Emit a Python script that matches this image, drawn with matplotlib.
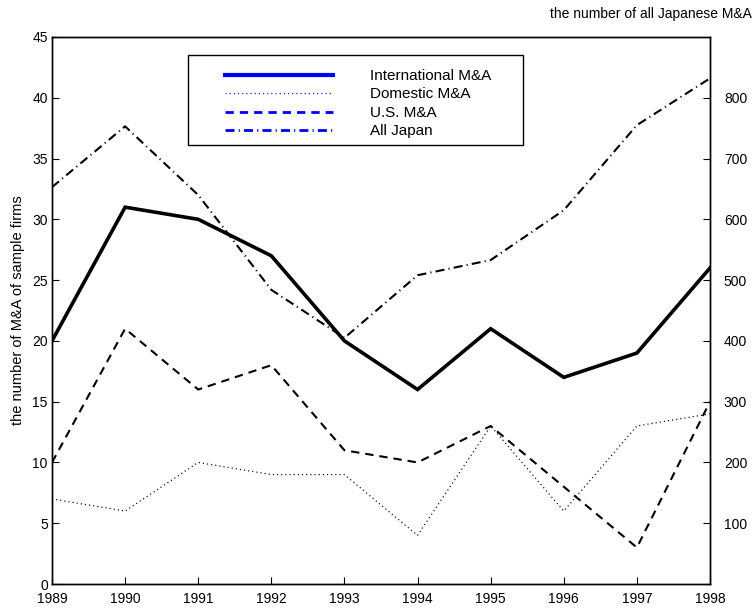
import numpy as np
import matplotlib
matplotlib.use("Agg")
import matplotlib.pyplot as plt
from matplotlib.lines import Line2D
from matplotlib.patches import Rectangle

plt.rcParams["font.family"] = ["Liberation Sans", "DejaVu Sans"]
plt.rcParams["lines.scale_dashes"] = False

years = [1989, 1990, 1991, 1992, 1993, 1994, 1995, 1996, 1997, 1998]
international = [20, 31, 30, 27, 20, 16, 21, 17, 19, 26]
domestic = [7, 6, 10, 9, 9, 4, 13, 6, 13, 14]
us = [10, 21, 16, 18, 11, 10, 13, 8, 3, 15]
all_japan = [653, 753, 640, 484, 405, 508, 533, 615, 755, 832]

labels = ["International M&A", "Domestic M&A", "U.S. M&A", "All Japan"]

DASHED = (0, (6, 4.3))
DOTTED = (0, (0.8, 2.2))
DASHDOT = (0, (6.5, 3, 0.8, 3))

fig = plt.figure(figsize=(7.56, 6.08), dpi=100)
ax = fig.add_axes([52 / 756, 24 / 608, 658 / 756, 547 / 608])
ax2 = ax.twinx()

ax.plot(years, international, color="black", lw=2.6, solid_joinstyle="miter")
ax.plot(years, domestic, color="black", lw=0.9, linestyle=DOTTED)
ax.plot(years, us, color="black", lw=1.5, linestyle=DASHED)
ax2.plot(years, all_japan, color="black", lw=1.5, linestyle=DASHDOT)

ax.set_xlim(1989, 1998)
ax.set_ylim(0, 45)
ax2.set_ylim(0, 900)
ax.set_xticks(years)
ax.set_yticks(range(0, 46, 5))
ax2.set_yticks(range(100, 801, 100))

for a in (ax, ax2):
    a.tick_params(direction="in", length=5, width=0.8, labelsize=10)
    for s in a.spines.values():
        s.set_linewidth(1.0)
ax.tick_params(axis="x", pad=6)
ax.tick_params(axis="y", pad=3)
ax2.tick_params(axis="y", pad=10)

ax.set_ylabel("the number of M&A of sample firms", fontsize=10.5, labelpad=5)
fig.text(752 / 756, 1 - 14 / 608, "the number of all Japanese M&A",
         ha="right", va="center", fontsize=10)

# legend (blue handles, as in the original)
blue = "#0000ff"
handles = [
    Line2D([], [], color=blue, lw=3.0),
    Line2D([], [], color=blue, lw=0.9, linestyle=DOTTED),
    Line2D([], [], color=blue, lw=2.0, linestyle=DASHED),
    Line2D([], [], color=blue, lw=2.0, linestyle=DASHDOT),
]
box = Rectangle((188 / 756, 1 - 145 / 608), 335 / 756, 90 / 608,
                transform=fig.transFigure, facecolor="white",
                edgecolor="black", lw=1.0, zorder=5, clip_on=False)
ax2.add_patch(box)
leg = ax2.legend(handles, labels, loc="upper left",
                 bbox_to_anchor=(225 / 756, 1 - 69 / 608),
                 bbox_transform=fig.transFigure, frameon=False,
                 fontsize=11, handlelength=7.1, handletextpad=2.4,
                 labelspacing=0.29, borderpad=0, borderaxespad=0)
leg.set_zorder(6)

fig.savefig("out.png", dpi=100)
